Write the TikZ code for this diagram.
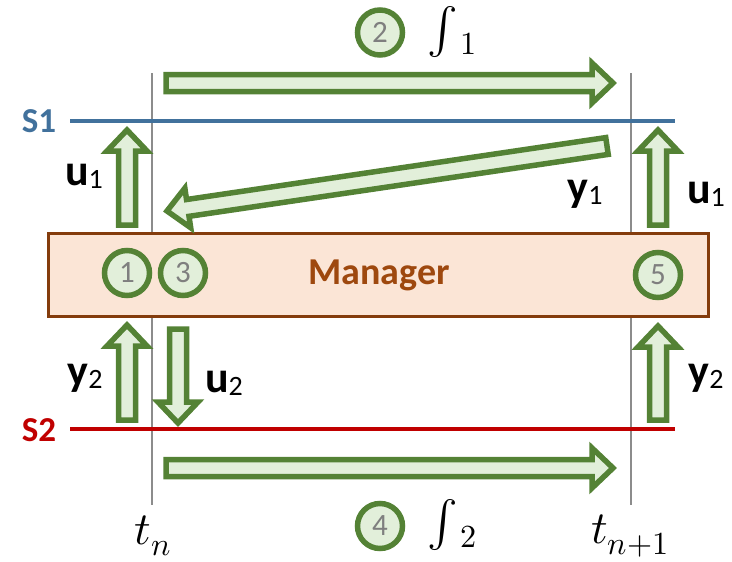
\documentclass[tikz,border=0pt]{standalone}
\usepackage{fontspec}
\setmainfont{Carlito}
\usepackage{unicode-math}
\setmathfont{Latin Modern Math}
\usetikzlibrary{calc}

\definecolor{flowgreen}{HTML}{548235}
\definecolor{flowfill}{HTML}{E2EFDA}
\definecolor{mgrfill}{HTML}{FBE5D6}
\definecolor{mgrbrown}{HTML}{843C0C}
\definecolor{mgrtext}{HTML}{9E480E}
\definecolor{sblue}{HTML}{41719C}
\definecolor{sred}{HTML}{C00000}
\definecolor{tgray}{HTML}{8C8C8C}
\definecolor{numgray}{HTML}{7F7F7F}

% block arrow from #1 to #2
\newcommand{\flow}[2]{%
  \coordinate (fh) at ($(#2)!21pt!(#1)$);
  \draw[flowarrow] ($(#1)!8.5pt!90:(#2)$) -- ($(fh)!8.5pt!90:(#2)$)
    -- ($(fh)!20pt!90:(#2)$) -- (#2) -- ($(fh)!20pt!-90:(#2)$)
    -- ($(fh)!8.5pt!-90:(#2)$) -- ($(#1)!8.5pt!-90:(#2)$) -- cycle;}
\newcommand{\sigv}[2]{{\fontsize{44}{48}\selectfont\bfseries #1}\raisebox{-0.28em}{\fontsize{28}{30}\selectfont #2}}

\begin{document}
\begin{tikzpicture}[x=1pt, y=-1pt,
  flowarrow/.style={draw=flowgreen, fill=flowfill, line width=5.5pt, line join=miter},
  stepnum/.style={circle, draw=flowgreen, fill=flowfill, line width=5.5pt,
                  minimum size=45pt, inner sep=0pt, text=numgray,
                  font=\fontsize{31}{33}\selectfont},
  timeline/.style={draw=tgray, line width=2pt},
  sysname/.style={font=\fontsize{35}{38}\selectfont\bfseries},
  mathlbl/.style={font=\fontsize{46}{50}\selectfont}
]
\useasboundingbox (0,0) rectangle (732,562);

% time lines
\coordinate (tnt) at (152,73);
\coordinate (tnb) at (152,505);
\coordinate (tmt) at (631,73);
\coordinate (tmb) at (631,505);
\draw[timeline] (tnt) -- (tnb);
\draw[timeline] (tmt) -- (tmb);
\node[mathlbl] (tn) at (153,536) {$t_n$};
\node[mathlbl] (tm) at (630,536) {$t_{n+1}$};

% subsystems
\node[sysname, text=sblue] (s1) at (39,121) {S1};
\node[sysname, text=sred] (s2) at (39,430) {S2};
\coordinate (s1w) at (70,121);
\coordinate (s1e) at (675,121);
\coordinate (s2w) at (70,429);
\coordinate (s2e) at (675,429);
\draw[sblue, line width=4.5pt] (s1w) -- (s1e);
\draw[sred, line width=4.5pt] (s2w) -- (s2e);

% manager
\node[draw=mgrbrown, fill=mgrfill, line width=3pt, minimum width=660pt,
      minimum height=83pt, inner sep=0pt] (mgr) at (378.5,275) {};
\node[text=mgrtext, font=\fontsize{38}{40}\selectfont\bfseries] (mgrlbl) at (379,275) {Manager};

% steps
\node[stepnum] (n1) at (127,273) {1};
\node[stepnum] (n3) at (183,273) {3};
\node[stepnum] (n5) at (658,275) {5};
\node[stepnum] (n2) at (380,32.5) {2};
\node[stepnum] (n4) at (380,526) {4};
\node[mathlbl] (i1) at (452,32) {$\int\mkern-2mu{}_1$};
\node[mathlbl] (i2) at (452,525) {$\int\mkern-2mu{}_2$};

% flows
\coordinate (a2s) at (166,83);  \coordinate (a2e) at (613,83);
\coordinate (a4s) at (166,468); \coordinate (a4e) at (613,468);
\coordinate (y1s) at (607,146); \coordinate (y1e) at (167,211);
\coordinate (u1ls) at (127,225); \coordinate (u1le) at (127,130);
\coordinate (u1rs) at (658,225); \coordinate (u1re) at (658,130);
\coordinate (y2ls) at (127,420); \coordinate (y2le) at (127,325);
\coordinate (y2rs) at (658,420); \coordinate (y2re) at (658,326);
\coordinate (u2s) at (178,329);  \coordinate (u2e) at (178,423);
\flow{a2s}{a2e}
\flow{a4s}{a4e}
\flow{y1s}{y1e}
\flow{u1ls}{u1le}
\flow{u1rs}{u1re}
\flow{y2ls}{y2le}
\flow{y2rs}{y2re}
\flow{u2s}{u2e}

% signal labels
\node (lu1l) at (84,176) {\sigv{u}{1}};
\node (lu1r) at (706,194) {\sigv{u}{1}};
\node (ly1) at (585,194) {\sigv{y}{1}};
\node (ly2l) at (85,378) {\sigv{y}{2}};
\node (lu2) at (224,383) {\sigv{u}{2}};
\node (ly2r) at (706,378) {\sigv{y}{2}};
\end{tikzpicture}
\end{document}
